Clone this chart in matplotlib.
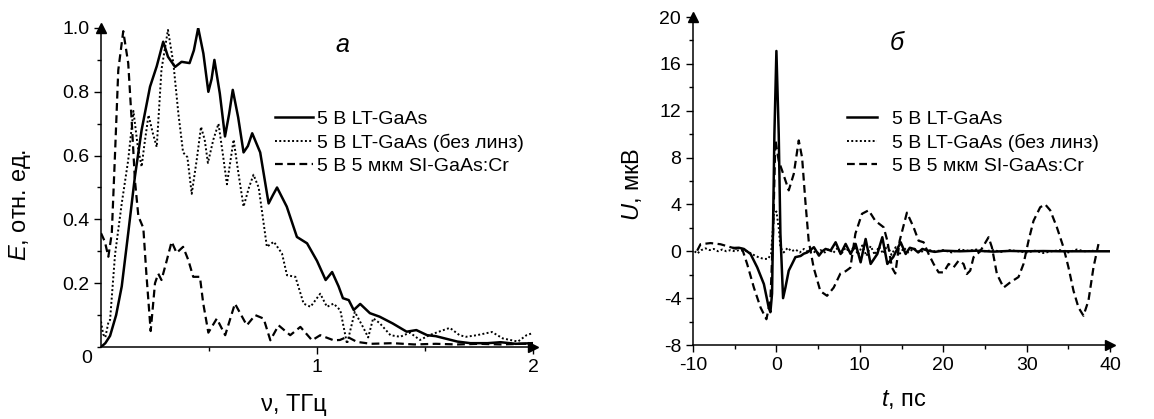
import numpy as np
import matplotlib
matplotlib.use("Agg")
import matplotlib.pyplot as plt
from matplotlib.ticker import MultipleLocator, FixedLocator

plt.rcParams["font.family"] = ["Liberation Sans", "DejaVu Sans"]
plt.rcParams["mathtext.fontset"] = "custom"
plt.rcParams["mathtext.it"] = "Liberation Sans:italic"
plt.rcParams["mathtext.rm"] = "Liberation Sans"
plt.rcParams["axes.unicode_minus"] = False

# --- данные: спектры (а) ---
nu_lt = [0, 0.02, 0.042, 0.07, 0.096, 0.126, 0.157, 0.188, 0.227, 0.258,
         0.288, 0.31, 0.343, 0.373, 0.41, 0.43, 0.45, 0.474, 0.497, 0.512,
         0.525, 0.55, 0.574, 0.593, 0.61, 0.635, 0.66, 0.68, 0.70, 0.737,
         0.776, 0.795, 0.815, 0.86, 0.907, 0.954, 1.0, 1.04, 1.07, 1.10,
         1.12, 1.147, 1.17, 1.20, 1.245, 1.29, 1.35, 1.415, 1.46, 1.51,
         1.55, 1.65, 1.71, 1.79, 1.85, 1.92, 2.0]
E_lt = [0, 0.012, 0.035, 0.10, 0.19, 0.357, 0.534, 0.68, 0.816, 0.88,
        0.957, 0.91, 0.878, 0.894, 0.89, 0.93, 1.0, 0.92, 0.80, 0.84,
        0.90, 0.795, 0.66, 0.73, 0.806, 0.72, 0.61, 0.63, 0.67, 0.61,
        0.45, 0.475, 0.50, 0.44, 0.345, 0.325, 0.27, 0.21, 0.235, 0.19,
        0.153, 0.147, 0.116, 0.135, 0.106, 0.095, 0.074, 0.048, 0.053, 0.037,
        0.034, 0.017, 0.012, 0.012, 0.015, 0.01, 0.012]

nu_nl = [0, 0.01, 0.02, 0.035, 0.042, 0.065, 0.096, 0.126, 0.15, 0.17,
         0.188, 0.2, 0.22, 0.24, 0.258, 0.28, 0.31, 0.335, 0.358, 0.38,
         0.40, 0.42, 0.443, 0.463, 0.48, 0.495, 0.52, 0.544, 0.565, 0.583,
         0.614, 0.635, 0.66, 0.685, 0.706, 0.73, 0.768, 0.80, 0.838, 0.861,
         0.9, 0.938, 0.97, 1.015, 1.046, 1.077, 1.108, 1.139, 1.175, 1.215,
         1.237, 1.26, 1.29, 1.34, 1.385, 1.43, 1.477, 1.52, 1.56, 1.615,
         1.66, 1.69, 1.74, 1.81, 1.86, 1.93, 1.97, 2.0]
E_nl = [0.08, 0.04, 0.03, 0.08, 0.085, 0.29, 0.45, 0.586, 0.74, 0.63,
        0.565, 0.63, 0.727, 0.67, 0.627, 0.87, 0.994, 0.89, 0.733, 0.61,
        0.595, 0.48, 0.586, 0.69, 0.65, 0.577, 0.65, 0.70, 0.60, 0.51,
        0.65, 0.55, 0.44, 0.50, 0.54, 0.50, 0.314, 0.33, 0.293, 0.225,
        0.22, 0.136, 0.126, 0.167, 0.126, 0.136, 0.115, 0.01, 0.11, 0.06,
        0.03, 0.09, 0.075, 0.037, 0.032, 0.045, 0.022, 0.037, 0.047, 0.06,
        0.037, 0.032, 0.037, 0.047, 0.027, 0.017, 0.037, 0.044]

nu_si = [0, 0.018, 0.034, 0.05, 0.065, 0.08, 0.103, 0.126, 0.142, 0.157,
         0.173, 0.196, 0.21, 0.23, 0.25, 0.265, 0.28, 0.304, 0.327, 0.35,
         0.38, 0.404, 0.427, 0.458, 0.473, 0.497, 0.536, 0.575, 0.62, 0.675,
         0.714, 0.753, 0.784, 0.822, 0.876, 0.923, 0.977, 1.015, 1.077, 1.106,
         1.14, 1.185, 1.25, 1.35, 1.45, 1.55, 1.65, 1.75, 1.85, 1.95, 2.0]
E_si = [0.357, 0.33, 0.283, 0.357, 0.607, 0.868, 0.99, 0.89, 0.71, 0.523,
        0.41, 0.373, 0.23, 0.05, 0.2, 0.23, 0.21, 0.27, 0.33, 0.295,
        0.314, 0.273, 0.22, 0.22, 0.138, 0.045, 0.089, 0.037, 0.136, 0.068,
        0.1, 0.089, 0.021, 0.068, 0.037, 0.063, 0.021, 0.037, 0.021, 0.022,
        0.032, 0.016, 0.01, 0.012, 0.008, 0.01, 0.008, 0.01, 0.008, 0.01, 0.01]

# --- данные: временные формы (б) ---
t_lt = [-5.1, -4.5, -3.9, -3.1, -2.3, -1.5, -0.92, -0.72, -0.52, -0.24,
        0, 0.28, 0.48, 0.8, 1.08, 1.48, 1.88, 2.28, 2.9, 3.3,
        3.7, 4.5, 5.1, 5.5, 5.9, 6.5, 7.1, 7.7, 8.3, 8.9,
        9.5, 10.1, 10.7, 11.3, 12.1, 12.7, 13.3, 14.0, 14.9, 15.5,
        16.0, 16.5, 17.0, 17.5, 18.2, 19, 20, 22, 24, 26,
        28, 30, 32, 34, 36, 38, 40]
U_lt = [0.28, 0.3, 0.2, -0.23, -1.37, -2.8, -4.8, -5.2, -3.6, 10,
        17.1, 10, 1.5, -4.0, -3.1, -1.65, -1.08, -0.5, -0.4, -0.2,
        -0.1, 0.35, -0.37, 0.0, 0.2, 0.06, 0.77, -0.23, 0.63, -0.23,
        0.63, -0.94, 1.05, -1.08, -0.23, 1.2, -1.08, -0.5, 0.77, -0.23,
        0.3, 0.2, -0.1, 0.2, 0.05, -0.05, 0.05, 0.0, 0.05, -0.03,
        0.03, 0.0, 0.02, 0.0, 0.0, 0.0, 0.0]

t_nl = [-9.8, -9.5, -9.0, -8.5, -8.0, -7.5, -7.0, -6.5, -6.0, -5.5,
        -5.0, -4.5, -4.0, -3.5, -3.0, -2.5, -2.0, -1.5, -1.0, -0.64,
        -0.3, 0, 0.28, 0.48, 0.88, 1.36,
        1.8, 2.3, 2.8, 3.3, 3.8, 4.3, 4.8, 5.3, 5.8, 6.3,
        6.8, 7.3, 7.8, 8.3, 8.8, 9.3, 9.8, 10.3, 10.8, 11.3,
        11.8, 12.3, 12.8, 13.3, 13.8, 14.3, 14.8, 15.3, 15.8,
        16.5, 17.2,
        18, 19, 20, 21, 22, 23, 24, 25, 26, 27,
        28, 29, 30, 31, 32, 33, 34, 35, 36, 37, 38]
U_nl = [0.0, -0.2, 0.1, 0.25, 0.1, 0.2, 0.0, 0.15, 0.0, 0.1,
        0.0, 0.1, 0.05, 0.0, -0.2, -0.4, -0.55, -0.65, -0.65, -0.23,
        3.2, 3.4, 2.0, 0.34, -0.1, 0.3,
        0.0, 0.15, -0.1, 0.2, -0.05, 0.1, -0.2, 0.1, -0.1, 0.2,
        -0.15, 0.25, -0.2, 0.3, -0.1, 0.4, -0.3, 0.5, -0.4, 0.45,
        -0.3, 0.4, -0.2, 0.5, -0.3, 0.35, -0.2, 0.3, -0.1,
        0.25, -0.1,
        0.15, 0.0, 0.1, -0.1, 0.15, 0.05, 0.15, 0.0, 0.1, -0.05,
        0.1, 0.0, -0.1, 0.05, -0.15, 0.0, 0.1, -0.1, 0.15, 0.0, 0.05]

t_si = [-9.5, -9.1, -7.9, -6.7, -5.5, -4.7, -4.1, -3.5, -2.7, -1.9,
        -1.2, -0.72, -0.4, -0.12, 0.28, 0.68, 1.48, 2.08, 2.68, 3.08,
        3.47, 3.87, 4.47, 5.27, 6.07, 6.87, 7.67, 8.3, 8.87, 9.47,
        10.26, 11.06, 11.86, 12.86, 13.3, 13.86, 14.26, 14.78, 15.65, 16.45,
        17.05, 17.65, 18.25, 18.85, 19.45, 20.05, 20.65, 21.25, 21.85, 22.44,
        22.84, 23.24, 23.64, 24.44, 25.44, 25.84, 26.44, 27.24, 28.04, 29.03,
        29.63, 30.23, 30.83, 31.63, 32.23, 32.83, 33.63, 34.42, 35.02, 35.62,
        36.22, 36.82, 37.42, 38.02, 38.62]
U_si = [0.05, 0.6, 0.7, 0.6, 0.35, 0.2, 0.2, -1.1, -3.1, -4.8,
        -5.8, -4.2, 1.5, 9.5, 7.7, 6.9, 5.2, 6.6, 9.46, 8.0,
        4.3, 0.9, -1.4, -3.4, -3.8, -3.1, -1.9, -1.7, -1.4, 1.5,
        3.2, 3.5, 2.6, 2.05, 0.9, -1.4, -1.9, 0.9, 3.3, 2.05,
        0.9, 0.77, -0.23, -1.08, -1.8, -1.8, -1.08, -1.37, -0.8, -1.08,
        -1.94, -1.65, -0.5, 0.0, 1.2, 0.34, -1.94, -3.1, -2.65, -2.2,
        -1.08, 0.9, 2.6, 3.76, 4.0, 3.5, 2.05, 0.34, -1.37, -3.36,
        -4.8, -5.5, -4.2, -1.37, 0.63]

labels = ["5 В LT-GaAs", "5 В LT-GaAs (без линз)", "5 В 5 мкм SI-GaAs:Cr"]

W, H = 1154, 419
fig = plt.figure(figsize=(W / 100, H / 100), dpi=100)


def box(x0, y0, x1, y1):
    return [x0 / W, 1 - y1 / H, (x1 - x0) / W, (y1 - y0) / H]


def px(x, y):
    return x / W, 1 - y / H


sol = dict(color="k", lw=1.8, ls="-")
dot = dict(color="k", lw=1.4, ls=(0, (1, 1.2)))
das = dict(color="k", lw=1.6, ls=(0, (3.5, 2)))


def style_axes(ax):
    for s in ["top", "right"]:
        ax.spines[s].set_visible(False)
    for s in ["left", "bottom"]:
        ax.spines[s].set_linewidth(1.1)
    ax.tick_params(which="major", direction="out", length=5, width=1, labelsize=14)
    ax.tick_params(which="minor", direction="out", length=3, width=1)
    ax.plot(1, 0, ">", color="k", ms=7, transform=ax.transAxes, clip_on=False)
    ax.plot(0, 1, "^", color="k", ms=7, transform=ax.transAxes, clip_on=False)


# (а)
ax1 = fig.add_axes(box(101, 28, 533, 347))
l1, = ax1.plot(nu_lt, E_lt, **sol)
l2, = ax1.plot(nu_nl, E_nl, **dot)
l3, = ax1.plot(nu_si, E_si, **das)
ax1.set_xlim(0, 2)
ax1.set_ylim(0, 1.0)
ax1.xaxis.set_major_locator(FixedLocator([1, 2]))
ax1.xaxis.set_minor_locator(FixedLocator([0.5, 1.5]))
ax1.yaxis.set_major_locator(FixedLocator([0.2, 0.4, 0.6, 0.8, 1.0]))
ax1.yaxis.set_minor_locator(MultipleLocator(0.1))
ax1.set_xticklabels(["1", "2"])
ax1.set_yticklabels(["0.2", "0.4", "0.6", "0.8", "1.0"])
style_axes(ax1)
ax1.legend([l1, l2, l3], labels, loc="upper left",
           bbox_to_anchor=px(275, 110), bbox_transform=fig.transFigure,
           frameon=False, borderpad=0, borderaxespad=0, handlelength=1.96,
           handletextpad=0.2, labelspacing=0.3, fontsize=14)
fig.text(*px(87, 358), "0", ha="center", va="center", fontsize=14)
fig.text(*px(342, 45), "а", ha="center", va="center", fontsize=18, style="italic")
fig.text(*px(294, 405), "ν, ТГц", ha="center", va="center", fontsize=17)
fig.text(*px(20, 205), "$E$, отн. ед.", ha="center", va="center", fontsize=17, rotation=90)

# (б)
ax2 = fig.add_axes(box(693, 17, 1110, 345))
k1, = ax2.plot(t_lt, U_lt, **sol)
k2, = ax2.plot(t_nl, U_nl, **dot)
k3, = ax2.plot(t_si, U_si, **das)
ax2.set_xlim(-10, 40)
ax2.set_ylim(-8, 20)
ax2.xaxis.set_major_locator(MultipleLocator(10))
ax2.xaxis.set_minor_locator(MultipleLocator(5))
ax2.yaxis.set_major_locator(MultipleLocator(4))
ax2.yaxis.set_minor_locator(MultipleLocator(2))
style_axes(ax2)
ax2.legend([k1, k2, k3], labels, loc="upper left",
           bbox_to_anchor=px(847, 110), bbox_transform=fig.transFigure,
           frameon=False, borderpad=0, borderaxespad=0, handlelength=1.55,
           handletextpad=0.77, labelspacing=0.3, fontsize=14)
fig.text(*px(897, 43), "б", ha="center", va="center", fontsize=18, style="italic")
fig.text(*px(904, 399), "$t$, пс", ha="center", va="center", fontsize=17)
fig.text(*px(632, 184), "$U$, мкВ", ha="center", va="center", fontsize=17, rotation=90)

fig.savefig("out.png", dpi=100)
